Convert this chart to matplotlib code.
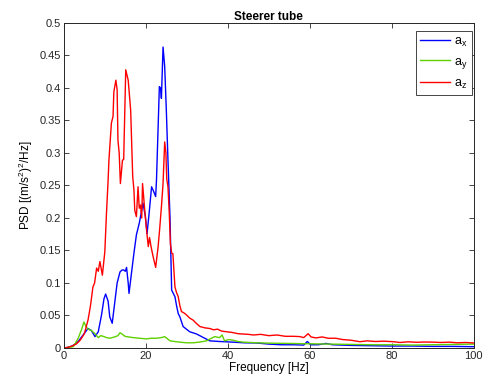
"""Steerer tube PSD chart (a_x, a_y, a_z)."""

import matplotlib

matplotlib.use("Agg")

import matplotlib.pyplot as plt

plt.rcParams["font.family"] = ["Liberation Sans", "DejaVu Sans"]
plt.rcParams["mathtext.fontset"] = "custom"
plt.rcParams["mathtext.rm"] = "Liberation Sans"
plt.rcParams["mathtext.it"] = "Liberation Sans"

# a_z (red)
freq_z = [0, 1, 2, 3, 4, 5, 5.9, 6.5, 7.1, 7.5, 8.0, 8.4, 8.8, 9.4, 10, 10.4,
          10.8, 11.0, 11.6, 12.0, 12.2, 12.7, 13.0, 13.2, 13.5, 13.8, 14.3,
          14.6, 15.1, 15.7, 16.3, 16.8, 17.1, 17.3, 17.7, 18.1, 18.4, 18.7,
          19.0, 19.2, 19.5, 19.8, 20.2, 20.6, 20.9, 21.3, 21.8, 22.4, 23.0,
          23.4, 23.8, 24.2, 24.6, 24.9, 25.1, 25.4, 25.7, 26.0, 26.3, 26.6,
          27.1, 27.5, 27.9, 28.3, 28.7, 29.3, 29.9, 30.7, 31.5, 32.3, 33.2,
          34.4, 35.6, 36.5, 37.5, 38.5, 39.7, 41, 42.5, 43.7, 45, 46.3, 48,
          50, 52, 54, 56, 57.6, 58.5, 59.6, 60.3, 61.5, 63, 64.5, 66.3, 68,
          70, 72.2, 74, 76, 78, 80.3, 82, 84, 86, 88, 90, 92, 94, 96, 98, 100]
psd_z = [0, 0.001, 0.003, 0.006, 0.012, 0.022, 0.043, 0.065, 0.094, 0.1,
         0.123, 0.118, 0.133, 0.112, 0.148, 0.207, 0.258, 0.289, 0.346, 0.356,
         0.394, 0.412, 0.397, 0.32, 0.3, 0.253, 0.289, 0.29, 0.428, 0.412,
         0.366, 0.264, 0.243, 0.212, 0.202, 0.248, 0.215, 0.22, 0.2, 0.253,
         0.23, 0.207, 0.18, 0.156, 0.17, 0.155, 0.14, 0.124, 0.156, 0.185,
         0.217, 0.253, 0.317, 0.3, 0.26, 0.248, 0.21, 0.16, 0.146, 0.145,
         0.094, 0.085, 0.079, 0.065, 0.056, 0.054, 0.051, 0.046, 0.043, 0.038,
         0.033, 0.031, 0.030, 0.028, 0.029, 0.026, 0.025, 0.024, 0.022,
         0.0215, 0.021, 0.02, 0.021, 0.019, 0.02, 0.018, 0.018, 0.0175, 0.016,
         0.022, 0.017, 0.0155, 0.017, 0.015, 0.015, 0.013, 0.012, 0.0097,
         0.011, 0.01, 0.0105, 0.0097, 0.0085, 0.0095, 0.0088, 0.0092, 0.009,
         0.0085, 0.009, 0.008, 0.0085, 0.0077]

# a_x (blue)
freq_x = [0, 1, 2, 3, 3.5, 4.7, 5.9, 6.7, 7.6, 8.4, 9.2, 9.8, 10.2, 10.8,
          11.2, 11.8, 12.4, 13.0, 13.7, 14.2, 14.6, 15.0, 15.3, 15.7, 15.9,
          16.4, 17.1, 17.7, 18.4, 18.7, 19.3, 19.9, 20.3, 20.8, 21.4, 21.9,
          22.4, 22.6, 23.0, 23.3, 23.6, 23.8, 24.2, 24.6, 25.0, 25.4, 25.9,
          26.3, 27.1, 27.5, 27.9, 28.3, 29.1, 30.7, 32.4, 33.6, 35.6, 38,
          41.3, 44, 47, 50, 53, 56, 58.5, 59.4, 60.2, 62, 64, 65.5, 70, 75,
          80, 85, 90, 95, 100]
psd_x = [0, 0.001, 0.003, 0.007, 0.01, 0.02, 0.03, 0.027, 0.0175, 0.025,
         0.051, 0.076, 0.083, 0.072, 0.048, 0.038, 0.069, 0.1, 0.117, 0.12,
         0.12, 0.118, 0.124, 0.1, 0.084, 0.11, 0.146, 0.174, 0.192, 0.202,
         0.223, 0.202, 0.176, 0.207, 0.248, 0.241, 0.233, 0.258, 0.34, 0.402,
         0.40, 0.384, 0.463, 0.433, 0.366, 0.289, 0.2, 0.089, 0.079, 0.065,
         0.053, 0.048, 0.033, 0.025, 0.0215, 0.0175, 0.011, 0.01, 0.009,
         0.008, 0.0077, 0.006, 0.005, 0.005, 0.0045, 0.01, 0.005, 0.005,
         0.007, 0.005, 0.004, 0.0035, 0.003, 0.003, 0.0025, 0.0025, 0.002]

# a_y (green)
freq_y = [0, 1, 2.3, 3.5, 4.3, 4.9, 5.4, 5.9, 6.7, 7.6, 8.4, 9.0, 9.6, 10.4,
          11.2, 12.4, 13.2, 13.7, 14.3, 14.9, 15.8, 16.9, 18.5, 20.1, 21.3,
          22.6, 23.8, 24.6, 25.9, 27, 28.3, 30, 31.5, 33, 34.8, 36, 36.8, 38,
          38.6, 39.2, 40.2, 41.3, 42.5, 43.7, 47, 50, 55, 60, 65, 70, 75, 80,
          85, 90, 95, 100]
psd_y = [0, 0.001, 0.002, 0.015, 0.028, 0.04, 0.033, 0.029, 0.027, 0.022,
         0.016, 0.019, 0.018, 0.016, 0.015, 0.017, 0.019, 0.0235, 0.021,
         0.018, 0.017, 0.016, 0.015, 0.014, 0.015, 0.015, 0.016, 0.0175,
         0.011, 0.01, 0.009, 0.008, 0.008, 0.009, 0.011, 0.015, 0.0175, 0.016,
         0.02, 0.011, 0.013, 0.012, 0.01, 0.009, 0.008, 0.0075, 0.007, 0.0065,
         0.006, 0.0055, 0.005, 0.005, 0.0045, 0.005, 0.0055, 0.006]

x_ticks = [0, 20, 40, 60, 80, 100]
y_ticks = [0, 0.05, 0.1, 0.15, 0.2, 0.25, 0.3, 0.35, 0.4, 0.45, 0.5]
y_tick_labels = ["0", "0.05", "0.1", "0.15", "0.2", "0.25", "0.3", "0.35",
                 "0.4", "0.45", "0.5"]

fig = plt.figure(figsize=(4.91, 3.89), dpi=100)
ax = fig.add_axes([0.130, 0.1054, 0.835, 0.8355])

ax.plot(freq_x, psd_x, color="#0000ff", linewidth=1.0, label="a$_x$")
ax.plot(freq_y, psd_y, color="#5fd000", linewidth=1.0, label="a$_y$")
ax.plot(freq_z, psd_z, color="#ff0000", linewidth=1.0, label="a$_z$")

ax.set_xlim(0, 100)
ax.set_ylim(0, 0.5)
ax.set_xticks(x_ticks)
ax.set_yticks(y_ticks)
ax.set_yticklabels(y_tick_labels)
ax.tick_params(direction="in", length=3.5, width=0.6, labelsize=8,
               top=True, right=True, colors="#262626", pad=2)
for spine in ax.spines.values():
    spine.set_color("#262626")
    spine.set_linewidth(0.7)

ax.set_xlabel("Frequency [Hz]", fontsize=8.5, labelpad=1)
ax.set_ylabel("PSD [(m/s$^2$)$^2$/Hz]", fontsize=8.5, labelpad=3)
ax.set_title("Steerer tube", fontsize=8.5, fontweight="bold", pad=2)

leg = ax.legend(loc="upper right", bbox_to_anchor=(0.995, 0.975),
                borderaxespad=0, fontsize=9, handlelength=2.4,
                fancybox=False, framealpha=1, labelspacing=0.55,
                handletextpad=0.3, borderpad=0.35)
leg.get_frame().set_edgecolor("#262626")
leg.get_frame().set_linewidth(0.6)

fig.savefig("out.png", dpi=100)
plt.close(fig)
